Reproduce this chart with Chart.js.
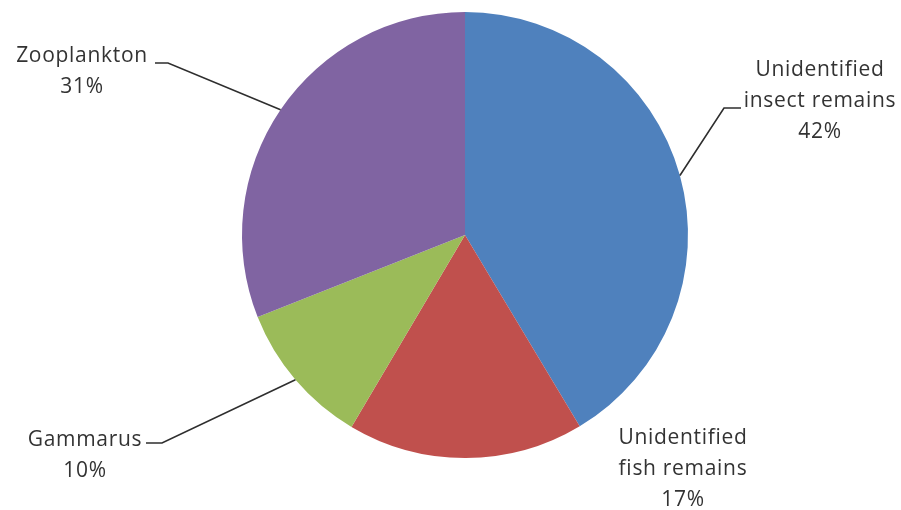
<!DOCTYPE html>
<html lang="en">
<head>
    <meta charset="UTF-8">
    <title>Diet composition</title>
    <style>
        body {
            margin: 0;
            background-color: #ffffff;
        }
        #wrap {
            width: 901px;
            height: 510px;
        }
    </style>
</head>
<body>
    <div id="wrap">
        <canvas id="pie" width="901" height="510"></canvas>
    </div>
    <script src="https://cdn.jsdelivr.net/npm/chart.js@4/dist/chart.umd.min.js"></script>
    <script>
        // data, clockwise from 12 o'clock
        const categories = ['Unidentified insect remains', 'Unidentified fish remains', 'Gammarus', 'Zooplankton'];
        const shares = [41.4, 17.1, 10.5, 31.0];
        // percentages as printed on the labels
        const printedPct = [42, 17, 10, 31];
        const labelLines = [
            ['Unidentified', 'insect remains'],
            ['Unidentified', 'fish remains'],
            ['Gammarus'],
            ['Zooplankton']
        ];
        const sliceColors = ['#4F81BD', '#C0504D', '#9BBB59', '#8064A2'];

        // where each label block sits, and the short elbow of its leader line
        const labelLayout = [
            { x: 820, y: 70, lead: { y: 108, from: 741, to: 724 } },
            { x: 683, y: 438, lead: null },
            { x: 85, y: 440, lead: { y: 443, from: 146, to: 162 } },
            { x: 82, y: 56, lead: { y: 63, from: 155, to: 168 } }
        ];
        const lineGap = 31;

        const labelPlugin = {
            id: 'sliceLabels',
            afterDatasetsDraw(chart) {
                const ctx = chart.ctx;
                const meta = chart.getDatasetMeta(0);
                ctx.save();
                meta.data.forEach((arc, i) => {
                    const p = arc.getProps(['x', 'y', 'startAngle', 'endAngle', 'outerRadius'], true);
                    const mid = (p.startAngle + p.endAngle) / 2;
                    const ax = p.x + Math.cos(mid) * p.outerRadius;
                    const ay = p.y + Math.sin(mid) * p.outerRadius;
                    const pos = labelLayout[i];

                    if (pos.lead) {
                        ctx.strokeStyle = '#2e2e2e';
                        ctx.lineWidth = 1.6;
                        ctx.beginPath();
                        ctx.moveTo(pos.lead.from, pos.lead.y);
                        ctx.lineTo(pos.lead.to, pos.lead.y);
                        ctx.lineTo(ax, ay);
                        ctx.stroke();
                    }

                    const lines = labelLines[i].concat([printedPct[i] + '%']);
                    ctx.fillStyle = '#333333';
                    ctx.font = '21px "Open Sans"';
                    ctx.letterSpacing = '0.7px';
                    ctx.textAlign = 'center';
                    ctx.textBaseline = 'middle';
                    lines.forEach((t, k) => {
                        ctx.fillText(t, pos.x, pos.y + k * lineGap);
                    });
                });
                ctx.restore();
            }
        };

        new Chart(document.getElementById('pie'), {
            type: 'pie',
            data: {
                labels: categories,
                datasets: [{
                    data: shares,
                    backgroundColor: sliceColors,
                    borderWidth: 0,
                    hoverOffset: 0
                }]
            },
            options: {
                responsive: false,
                animation: false,
                layout: {
                    padding: { left: 242, right: 213, top: 12, bottom: 52 }
                },
                plugins: {
                    legend: { display: false },
                    tooltip: { enabled: false }
                }
            },
            plugins: [labelPlugin]
        });
    </script>
</body>
</html>
